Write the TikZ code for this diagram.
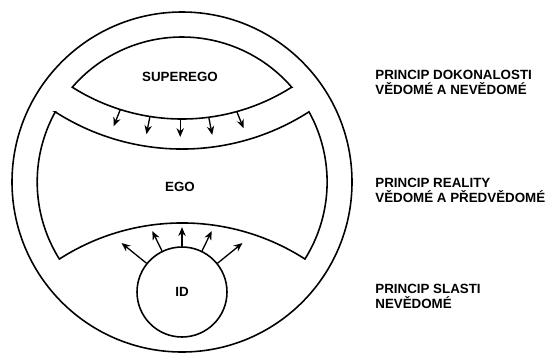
\documentclass[tikz,border=0pt]{standalone}
\usepackage{fontspec}
\setmainfont{Liberation Sans}
\usetikzlibrary{arrows.meta,calc}

\begin{document}
\begin{tikzpicture}[x=0.02cm, y=0.02cm,
  part/.style={draw, line width=0.9pt},
  lbl/.style={font=\fontsize{7.6}{8.5}\selectfont\bfseries, inner sep=0pt},
  note/.style={lbl, anchor=west, align=left},
  arr/.style={-{Stealth[length=5pt, width=4.2pt]}, line width=0.75pt}
]
  \useasboundingbox (0,0) rectangle (550,356);
  \coordinate (o)    at (182,174);
  \coordinate (up)   at (182,442);
  \coordinate (down) at (182,-94);

  % outer circle
  \draw[part] (o) circle[radius=170];

  % superego lens
  \draw[part] (291.7,268.8) arc[start angle=40.83, end angle=139.17, radius=145]
                            arc[start angle=237.65, end angle=302.35, radius=205] -- cycle;

  % ego
  \draw[part] (55.1,244.2) arc[start angle=237.3, end angle=302.7, radius=235]
                           arc[start angle=28.95, end angle=-32.1, radius=145]
                           arc[start angle=57.25, end angle=122.75, radius=227]
                           arc[start angle=212.1, end angle=151.05, radius=145] -- cycle;

  \node[lbl] (superego) at (180,279) {SUPEREGO};
  \node[lbl] (ego)      at (180,169) {EGO};
  \node[lbl, draw, circle, line width=0.9pt, minimum size=1.8cm] (id) at (182,64) {ID};

  % superego pressing down
  \coordinate (s1) at ($(up)+(252.5:205)$);
  \coordinate (s2) at ($(up)+(261:205)$);
  \coordinate (s3) at ($(up)+(269.5:205)$);
  \coordinate (s4) at ($(up)+(277.5:205)$);
  \coordinate (s5) at ($(up)+(285.5:205)$);
  \draw[arr] (s1) -- ++(248:18);
  \draw[arr] (s2) -- ++(259:18);
  \draw[arr] (s3) -- ++(270:18);
  \draw[arr] (s4) -- ++(281:18);
  \draw[arr] (s5) -- ++(292:18);

  % id pushing up
  \draw[arr] (id.141) -- ++(141:32);
  \draw[arr] (id.116) -- ++(116:22);
  \draw[arr] (id.90)  -- ++(90:19);
  \draw[arr] (id.64)  -- ++(64:22);
  \draw[arr] (id.39)  -- ++(39:32);

  \node[note] (perfect)  at (375,274) {PRINCIP DOKONALOSTI\\VĚDOMÉ A NEVĚDOMÉ};
  \node[note] (reality)  at (375,166) {PRINCIP REALITY\\VĚDOMÉ A PŘEDVĚDOMÉ};
  \node[note] (pleasure) at (375,60)  {PRINCIP SLASTI\\NEVĚDOMÉ};
\end{tikzpicture}
\end{document}
